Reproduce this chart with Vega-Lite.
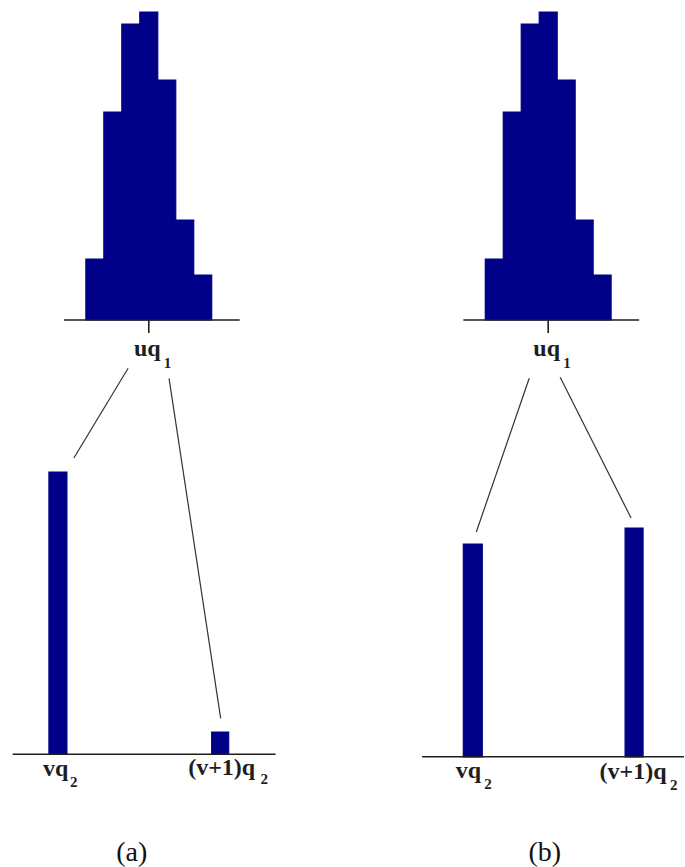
{
  "$schema": "https://vega.github.io/schema/vega-lite/v6.json",
  "width": 685,
  "height": 867,
  "autosize": {"type": "fit", "contains": "padding"},
  "padding": 0,
  "background": "white",
  "config": {"view": {"stroke": null}},
  "datasets": {
    "bars": [
      {"panel": "a", "part": "fine", "x0": 86, "x1": 104, "lo": 547, "hi": 608},
      {"panel": "a", "part": "fine", "x0": 104, "x1": 122, "lo": 547, "hi": 755},
      {"panel": "a", "part": "fine", "x0": 122, "x1": 140, "lo": 547, "hi": 843},
      {"panel": "a", "part": "fine", "x0": 140, "x1": 158, "lo": 547, "hi": 855},
      {"panel": "a", "part": "fine", "x0": 158, "x1": 176, "lo": 547, "hi": 787},
      {"panel": "a", "part": "fine", "x0": 176, "x1": 194, "lo": 547, "hi": 647},
      {"panel": "a", "part": "fine", "x0": 194, "x1": 212, "lo": 547, "hi": 592},
      {"panel": "b", "part": "fine", "x0": 486, "x1": 504, "lo": 547, "hi": 608},
      {"panel": "b", "part": "fine", "x0": 504, "x1": 522, "lo": 547, "hi": 755},
      {"panel": "b", "part": "fine", "x0": 522, "x1": 540, "lo": 547, "hi": 843},
      {"panel": "b", "part": "fine", "x0": 540, "x1": 558, "lo": 547, "hi": 855},
      {"panel": "b", "part": "fine", "x0": 558, "x1": 576, "lo": 547, "hi": 787},
      {"panel": "b", "part": "fine", "x0": 576, "x1": 594, "lo": 547, "hi": 647},
      {"panel": "b", "part": "fine", "x0": 594, "x1": 612, "lo": 547, "hi": 592},
      {"panel": "a", "part": "coarse", "x0": 49, "x1": 67, "lo": 113, "hi": 395},
      {"panel": "a", "part": "coarse", "x0": 212, "x1": 229, "lo": 113, "hi": 135},
      {"panel": "b", "part": "coarse", "x0": 464, "x1": 483, "lo": 110, "hi": 323},
      {"panel": "b", "part": "coarse", "x0": 626, "x1": 644, "lo": 110, "hi": 339}
    ],
    "axes": [
      {"panel": "a", "kind": "baseline", "x0": 64, "y0": 547, "x1": 240, "y1": 547},
      {"panel": "a", "kind": "tick", "x0": 149, "y0": 547, "x1": 149, "y1": 534},
      {"panel": "a", "kind": "baseline", "x0": 12.7, "y0": 112.7, "x1": 276, "y1": 112.7},
      {"panel": "b", "kind": "baseline", "x0": 464, "y0": 547, "x1": 640, "y1": 547},
      {"panel": "b", "kind": "tick", "x0": 549, "y0": 547, "x1": 549, "y1": 534},
      {"panel": "b", "kind": "baseline", "x0": 422.7, "y0": 110.3, "x1": 685, "y1": 110.3}
    ],
    "links": [
      {"panel": "a", "to": "vq2", "x0": 128.3, "y0": 498.7, "x1": 74, "y1": 409},
      {"panel": "a", "to": "(v+1)q2", "x0": 169.3, "y0": 488.7, "x1": 221, "y1": 148.7},
      {"panel": "b", "to": "vq2", "x0": 530, "y0": 488.7, "x1": 477, "y1": 335},
      {"panel": "b", "to": "(v+1)q2", "x0": 561, "y0": 489.7, "x1": 632, "y1": 349}
    ],
    "labels": [
      {"panel": "a", "text": "uq", "x": 147.5, "y": 511},
      {"panel": "a", "text": "vq", "x": 55.8, "y": 91},
      {"panel": "a", "text": "(v+1)q", "x": 222, "y": 92},
      {"panel": "b", "text": "uq", "x": 547.5, "y": 511},
      {"panel": "b", "text": "vq", "x": 469, "y": 89},
      {"panel": "b", "text": "(v+1)q", "x": 634, "y": 88}
    ],
    "subs": [
      {"panel": "a", "text": "1", "x": 164, "y": 499.3},
      {"panel": "a", "text": "2", "x": 70, "y": 80.3},
      {"panel": "a", "text": "2", "x": 261, "y": 83},
      {"panel": "b", "text": "1", "x": 564, "y": 499.3},
      {"panel": "b", "text": "2", "x": 485, "y": 78},
      {"panel": "b", "text": "2", "x": 671, "y": 77}
    ],
    "captions": [
      {"panel": "a", "text": "(a)", "x": 132, "y": 6.5},
      {"panel": "b", "text": "(b)", "x": 545.5, "y": 6.5}
    ]
  },
  "encoding": {},
  "layer": [
    {
      "data": {"name": "bars"},
      "mark": {"type": "rect", "color": "#000088", "stroke": "#000088", "strokeWidth": 1.2, "strokeOpacity": 1},
      "encoding": {
        "x": {"field": "x0", "type": "quantitative", "scale": {"domain": [0, 685], "nice": false, "zero": false}, "axis": null},
        "x2": {"field": "x1"},
        "y": {"field": "lo", "type": "quantitative", "scale": {"domain": [0, 867], "nice": false, "zero": false}, "axis": null},
        "y2": {"field": "hi"}
      }
    },
    {
      "data": {"name": "axes"},
      "mark": {"type": "rule", "color": "#1e1e1e", "strokeWidth": 1.6},
      "encoding": {
        "x": {"field": "x0", "type": "quantitative"},
        "x2": {"field": "x1"},
        "y": {"field": "y0", "type": "quantitative"},
        "y2": {"field": "y1"}
      }
    },
    {
      "data": {"name": "links"},
      "mark": {"type": "rule", "color": "#333333", "strokeWidth": 1.2},
      "encoding": {
        "x": {"field": "x0", "type": "quantitative"},
        "x2": {"field": "x1"},
        "y": {"field": "y0", "type": "quantitative"},
        "y2": {"field": "y1"}
      }
    },
    {
      "data": {"name": "labels"},
      "mark": {"type": "text", "font": "Liberation Serif", "fontSize": 24, "fontWeight": "bold", "color": "#1e1e1e", "align": "center", "baseline": "alphabetic"},
      "encoding": {
        "x": {"field": "x", "type": "quantitative"},
        "y": {"field": "y", "type": "quantitative"},
        "text": {"field": "text"}
      }
    },
    {
      "data": {"name": "subs"},
      "mark": {"type": "text", "font": "Liberation Serif", "fontSize": 15, "fontWeight": "bold", "color": "#1e1e1e", "align": "left", "baseline": "alphabetic"},
      "encoding": {
        "x": {"field": "x", "type": "quantitative"},
        "y": {"field": "y", "type": "quantitative"},
        "text": {"field": "text"}
      }
    },
    {
      "data": {"name": "captions"},
      "mark": {"type": "text", "font": "Liberation Serif", "fontSize": 28, "color": "#111111", "align": "center", "baseline": "alphabetic"},
      "encoding": {
        "x": {"field": "x", "type": "quantitative"},
        "y": {"field": "y", "type": "quantitative"},
        "text": {"field": "text"}
      }
    }
  ]
}
